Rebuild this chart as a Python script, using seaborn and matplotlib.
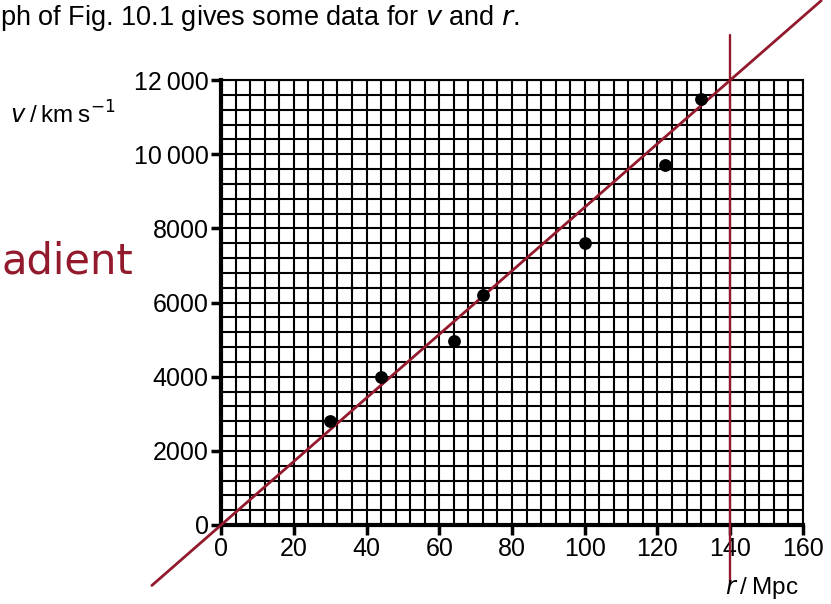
import matplotlib
matplotlib.use("Agg")
import matplotlib.pyplot as plt
import seaborn as sns
import pandas as pd
import numpy as np

# data
r_values = [30, 44, 64, 72, 100, 122, 132]
v_values = [2800, 4000, 4950, 6200, 7600, 9700, 11500]
fit_r = [-19, 165]
fit_v = [-1630, 14140]
marker_r = 140
x_ticks = [0, 20, 40, 60, 80, 100, 120, 140, 160]
y_ticks = [0, 2000, 4000, 6000, 8000, 10000, 12000]
y_tick_labels = ["0", "2000", "4000", "6000", "8000", "10\u2009000", "12\u2009000"]

sns.set_style("white")
plt.rcParams['font.family'] = ['Liberation Sans', 'DejaVu Sans']
plt.rcParams['text.color'] = 'black'

fig = plt.figure(figsize=(8.31, 6.04), dpi=100)
ax = fig.add_axes([221/831, 79/604, 582/831, 445/604])

red = "#931a2c"

# graph paper grid
for gx in np.arange(0, 161, 4):
    ax.axvline(gx, color="black", lw=1.5, zorder=1)
for gy in np.arange(0, 12001, 400):
    ax.axhline(gy, color="black", lw=1.5, zorder=1)

df = pd.DataFrame({"r": r_values, "v": v_values})
sns.scatterplot(data=df, x="r", y="v", ax=ax, color="black", s=85,
                edgecolor="black", linewidth=0, zorder=5)

fit_df = pd.DataFrame({"r": fit_r, "v": fit_v})
sns.lineplot(data=fit_df, x="r", y="v", ax=ax, color=red, lw=2.0, zorder=4)
for ln in ax.lines[-1:]:
    ln.set_clip_on(False)
ax.axvline(marker_r, ymin=-0.13, ymax=1.10, color=red, lw=1.7,
           clip_on=False, zorder=4)

ax.set_xlim(0, 160)
ax.set_ylim(0, 12000)
ax.set_xticks(x_ticks)
ax.set_xticklabels([str(t) for t in x_ticks])
ax.set_yticks(y_ticks)
ax.set_yticklabels(y_tick_labels)
ax.tick_params(axis="both", direction="out", length=7, width=2.5,
               labelsize=18, colors="black", pad=2, left=True, bottom=True)
ax.set_xlabel("")
ax.set_ylabel("")

for side in ["left", "bottom"]:
    ax.spines[side].set_linewidth(3)
    ax.spines[side].set_color("black")
for side in ["top", "right"]:
    ax.spines[side].set_linewidth(1.5)
    ax.spines[side].set_color("black")

# texts
fig.text(0/831, 1 - 18/604, "ph of Fig. 10.1 gives some data for $\\mathit{v}$ and $\\mathit{r}$.",
         fontsize=19.5, va="center", ha="left", color="black")
fig.text(10/831, 1 - 115/604, "$\\mathit{v}$\u2009/\u2009km\u2009s$^{-1}$",
         fontsize=17.5, va="center", ha="left", color="black")
fig.text(725/831, 1 - 588/604, "$\\mathit{r}$\u2009/\u2009Mpc",
         fontsize=17.5, va="center", ha="left", color="black")
fig.text(2/831, 1 - 262/604, "adient", fontsize=30, color=red,
         va="center", ha="left", family=["DejaVu Sans"])

fig.savefig("out.png", dpi=100, facecolor="white")
